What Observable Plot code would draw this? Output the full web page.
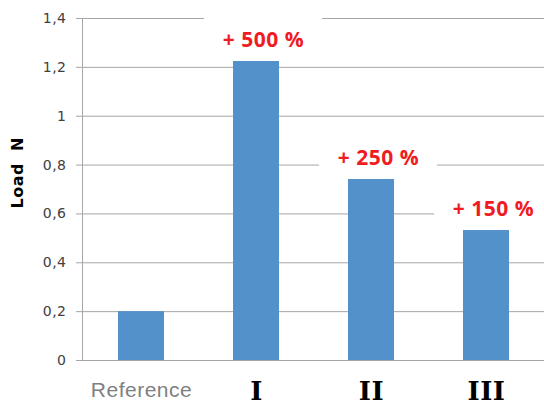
<!DOCTYPE html>
<html>
<head>
<meta charset="utf-8">
<script src="https://cdn.jsdelivr.net/npm/d3@7"></script>
<script src="https://cdn.jsdelivr.net/npm/@observablehq/plot@0.6"></script>
<style>
  html, body { margin: 0; padding: 0; background: #fff; }
  #chart svg { display: block; }
</style>
</head>
<body>
<div id="chart"></div>
<script>
const categories = ["Reference", "I", "II", "III"];
const values = [0.2, 1.224, 0.741, 0.532];
const increaseLabels = ["", "+ 500 %", "+ 250 %", "+ 150 %"];
const yTicks = [0, 0.2, 0.4, 0.6, 0.8, 1.0, 1.2, 1.4];
const yTickLabels = ["0", "0,2", "0,4", "0,6", "0,8", "1", "1,2", "1,4"];
const yTitle = "Load\u00a0\u00a0N";

const data = categories.map((c, i) => ({cat: c, value: values[i], label: increaseLabels[i]}));
const labelled = data.filter(d => d.label !== "");

const gray = "#a6a6a6";
const red = "#f01c24";
const blue = "#5391cb";

const chart = Plot.plot({
  width: 544,
  height: 405,
  marginLeft: 82,
  marginRight: 0,
  marginTop: 18,
  marginBottom: 45,
  style: {fontFamily: "DejaVu Sans", fontSize: "14px", background: "#fff", overflow: "visible", letterSpacing: "0.5px"},
  x: {domain: categories, paddingInner: 0.6, paddingOuter: 0.3, axis: null},
  y: {domain: [0, 1.4], axis: null},
  marks: [
    Plot.gridY(yTicks, {stroke: gray, strokeOpacity: 1}),
    Plot.barY(labelled, {x: "cat", y1: d => d.value + 0.008, y2: d => d.value + 0.213, fill: "white", insetLeft: -29, insetRight: -43}),
    Plot.barY(data, {x: "cat", y: "value", fill: blue}),
    Plot.ruleY([0], {stroke: gray}),
    Plot.axisY(yTicks, {
      tickSize: 6, tickPadding: 10, stroke: gray, fill: "#404040",
      tickFormat: d => yTickLabels[yTicks.indexOf(d)], label: null
    }),
    Plot.frame({anchor: "left", stroke: gray}),
    Plot.text(labelled, {
      x: "cat", y: "value", text: "label", dy: -21, dx: 7, lineAnchor: "middle",
      fill: red, fontWeight: "bold", fontSize: 21, fontFamily: "Open Sans"
    }),
    Plot.text(categories.filter(c => c === "Reference"), {
      x: d => d, text: d => d, frameAnchor: "bottom", dy: 30, lineAnchor: "middle",
      fill: "#7f7f7f", fontSize: 21, fontFamily: "Liberation Sans"
    }),
    Plot.text(categories.filter(c => c !== "Reference"), {
      x: d => d, text: d => d, frameAnchor: "bottom", dy: 31, lineAnchor: "middle",
      fill: "#000", fontSize: 26, fontWeight: "bold", fontFamily: "DejaVu Serif"
    }),
    Plot.text([yTitle], {
      text: d => d, frameAnchor: "left", rotate: -90, dx: -65, dy: 19,
      lineAnchor: "middle", fill: "#000", fontWeight: "bold", fontSize: 16, fontFamily: "DejaVu Sans"
    })
  ]
});
document.getElementById("chart").appendChild(chart);
</script>
</body>
</html>
